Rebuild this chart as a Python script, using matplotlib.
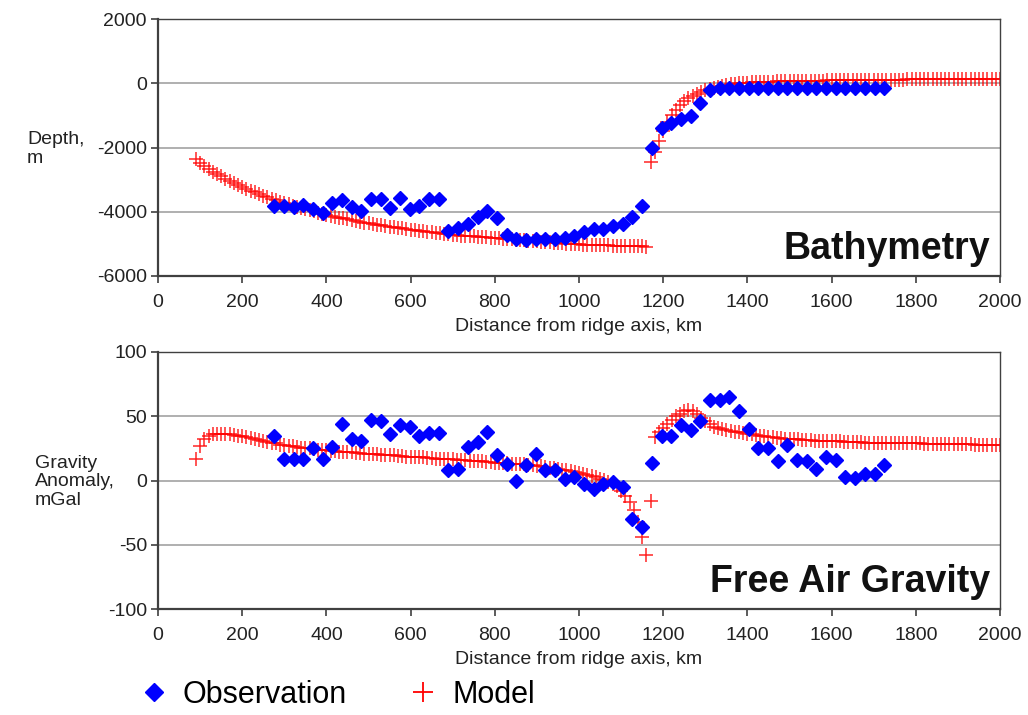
import matplotlib
matplotlib.use('Agg')
import matplotlib.pyplot as plt
from matplotlib.lines import Line2D

plt.rcParams['font.family'] = ['Liberation Sans', 'DejaVu Sans']
plt.rcParams['axes.unicode_minus'] = False

# observation stations along the profile (km from ridge axis)
OBS_KM = [276, 299, 322, 345, 368, 391, 414, 437, 460, 483,
          506, 529, 552, 575, 598, 621, 644, 667, 690, 713,
          736, 759, 782, 805, 828, 851, 874, 897, 920, 943,
          966, 989, 1012, 1035, 1058, 1081, 1104, 1127, 1150, 1173,
          1196, 1219, 1242, 1265, 1288, 1311, 1334, 1357, 1380, 1403,
          1426, 1449, 1472, 1495, 1518, 1541, 1564, 1587, 1610, 1633,
          1656, 1679, 1702, 1725]

OBS_DEPTH = [-3820, -3820, -3840, -3790, -3920, -4030, -3720, -3640, -3840, -3980,
             -3610, -3610, -3870, -3560, -3920, -3820, -3610, -3610, -4600, -4520,
             -4390, -4150, -3980, -4190, -4730, -4860, -4880, -4860, -4860, -4860,
             -4830, -4760, -4630, -4550, -4530, -4440, -4390, -4150, -3820, -2000,
             -1400, -1250, -1120, -1020, -600, -210, -160, -150, -150, -150,
             -150, -150, -150, -150, -150, -150, -150, -150, -150, -150,
             -150, -150, -150, -150]

OBS_GRAV = [35, 17, 17, 17, 25, 17, 26, 44, 32, 31,
            47, 46, 36, 43, 42, 35, 37, 37, 8, 9,
            26, 30, 38, 20, 13, 0, 12, 21, 8, 8,
            1, 3, -3, -7, -3, -1, -5, -30, -36, 14,
            35, 35, 43, 39, 46, 63, 63, 65, 54, 40,
            25, 25, 15, 28, 16, 15, 9, 18, 16, 3,
            2, 5, 5, 12]

# model is computed on a 10 km grid, in two pieces either side of the offset
MODEL_KM_A = list(range(90, 1170, 10))
MODEL_KM_B = list(range(1170, 2010, 10))

MODEL_DEPTH_A = [-2350, -2480, -2580, -2670, -2750, -2830, -2900, -2970, -3040, -3100,
                 -3170, -3230, -3290, -3340, -3400, -3450, -3500, -3550, -3600, -3640,
                 -3690, -3730, -3770, -3810, -3850, -3890, -3920, -3960, -3990, -4030,
                 -4060, -4100, -4130, -4160, -4190, -4210, -4240, -4270, -4290, -4320,
                 -4340, -4360, -4380, -4400, -4420, -4440, -4460, -4480, -4500, -4520,
                 -4540, -4560, -4570, -4590, -4610, -4620, -4640, -4650, -4670, -4680,
                 -4700, -4710, -4720, -4740, -4750, -4760, -4770, -4780, -4790, -4800,
                 -4810, -4820, -4830, -4840, -4850, -4860, -4870, -4880, -4890, -4900,
                 -4910, -4920, -4930, -4940, -4950, -4960, -4970, -4980, -4990, -5000,
                 -5010, -5010, -5020, -5030, -5030, -5040, -5040, -5050, -5050, -5060,
                 -5060, -5070, -5070, -5070, -5080, -5080, -5080, -5090]

MODEL_DEPTH_B = [-2450, -2150, -1800, -1500, -1220, -980, -820, -670, -550, -460,
                 -390, -330, -270, -210, -170, -140, -110, -80, -55, -30,
                 -15, 0, 10, 20, 28, 35, 41, 46, 50, 54,
                 58, 61, 64, 67, 70, 72, 75, 77, 79, 81,
                 83, 85, 87, 89, 91, 93, 95, 97, 98, 100,
                 102, 103, 105, 106, 108, 109, 111, 112, 113, 115,
                 116, 117, 118, 120, 121, 122, 123, 124, 125, 126,
                 127, 128, 129, 130, 131, 132, 133, 134, 135, 136,
                 137, 138, 139, 140]

MODEL_GRAV_A = [17, 27, 32, 35, 36, 36.5, 36.5, 36.5, 36, 35.5,
                35, 34.5, 34, 33, 32.5, 31.5, 31, 30, 29.5, 29,
                28, 27.5, 27, 26.5, 26, 25.5, 25, 25, 24.5, 24,
                24, 23.5, 23, 23, 22.5, 22.5, 22, 22, 21.5, 21.5,
                21, 21, 20.5, 20.5, 20, 20, 19.5, 19.5, 19, 19,
                18.5, 18.5, 18, 18, 18, 17.5, 17.5, 17, 17, 17,
                16.5, 16.5, 16, 16, 16, 15.5, 15.5, 15, 15, 14.5,
                14.5, 14, 14, 13.5, 13.5, 13, 13, 12.5, 12.5, 12,
                12, 11.5, 11, 10.5, 10, 9.5, 9, 8.5, 8, 7.5,
                7, 6, 5, 4.5, 3.5, 2.5, 1.5, 0.5, -1, -2.5,
                -4, -8, -12, -17, -23, -32, -44, -58]

MODEL_GRAV_B = [-16, 34, 38, 41, 44, 47, 50, 52, 54, 55,
                54, 52, 49, 46, 44, 42, 41, 40, 39, 38.5,
                38, 37.5, 37, 36.5, 36, 35.5, 35, 34.5, 34, 33.5,
                33, 33, 32.5, 32.5, 32, 32, 31.5, 31.5, 31.5, 31,
                31, 31, 30.5, 30.5, 30.5, 30.5, 30, 30, 30, 30,
                30, 29.5, 29.5, 29.5, 29.5, 29.5, 29.5, 29, 29, 29,
                29, 29, 29, 29, 29, 28.5, 28.5, 28.5, 28.5, 28.5,
                28.5, 28.5, 28.5, 28.5, 28.5, 28.5, 28.5, 28, 28, 28,
                28, 28, 28, 28]

OBS_COLOR = '#0000ff'
MODEL_COLOR = '#ff0000'
EDGE = '#404040'
FS = 14

W, H = 1028, 715
fig = plt.figure(figsize=(W / 100, H / 100), dpi=100)


def panel(top_px, bottom_px):
    return fig.add_axes([158 / W, 1 - bottom_px / H, 842 / W, (bottom_px - top_px) / H])


def style(ax, ylim, yticks):
    ax.set_xlim(0, 2000)
    ax.set_xticks(range(0, 2001, 200))
    ax.set_ylim(*ylim)
    ax.set_yticks(yticks)
    ax.grid(axis='y', color='#9a9a9a', lw=1.1)
    ax.set_axisbelow(True)
    for s in ax.spines.values():
        s.set_color(EDGE)
        s.set_linewidth(1.0)
    ax.spines['left'].set_linewidth(1.6)
    ax.spines['bottom'].set_linewidth(1.6)
    ax.tick_params(direction='out', length=5, width=1.2, color=EDGE,
                   labelsize=FS, labelcolor='#222222')
    ax.tick_params(axis='x', pad=8)
    ax.tick_params(axis='y', pad=3)
    ax.set_xlabel('Distance from ridge axis, km', fontsize=FS, color='#222222', labelpad=5)


def draw(ax, model_a, model_b, obs):
    for xs, ys in ((MODEL_KM_A, model_a), (MODEL_KM_B, model_b)):
        ax.plot(xs, ys, ls='none', marker='+', ms=10, mew=1.1, color=MODEL_COLOR, alpha=0.85, zorder=2)
    ax.plot(OBS_KM, obs, ls='none', marker='D', ms=7, color=OBS_COLOR, mec=OBS_COLOR, zorder=3)


ax1 = panel(19, 276)
draw(ax1, MODEL_DEPTH_A, MODEL_DEPTH_B, OBS_DEPTH)
style(ax1, (-6000, 2000), range(-6000, 2001, 2000))
ax1.text(0.988, 0.105, 'Bathymetry', transform=ax1.transAxes, ha='right', va='center',
         fontsize=27, fontweight='bold', color='#111111')

ax2 = panel(352, 609)
draw(ax2, MODEL_GRAV_A, MODEL_GRAV_B, OBS_GRAV)
style(ax2, (-100, 100), range(-100, 101, 50))
ax2.text(0.988, 0.105, 'Free Air Gravity', transform=ax2.transAxes, ha='right', va='center',
         fontsize=27, fontweight='bold', color='#111111')

fig.text(27 / W, 1 - 149 / H, 'Depth,\nm', ha='left', va='center', fontsize=FS,
         color='#222222', linespacing=1.15)
fig.text(35 / W, 1 - 482 / H, 'Gravity\nAnomaly,\nmGal', ha='left', va='center', fontsize=FS,
         color='#222222', linespacing=1.15)

handles = [Line2D([], [], ls='none', marker='D', ms=9, color=OBS_COLOR),
           Line2D([], [], ls='none', marker='+', ms=14, mew=1.3, color=MODEL_COLOR)]
fig.legend(handles, ['Observation', 'Model'], loc='center left',
           bbox_to_anchor=(126 / W, 1 - 695 / H), ncol=2, frameon=False, fontsize=22,
           handlelength=1.0, handletextpad=0.45, columnspacing=2.0, borderaxespad=0)

fig.savefig('out.png', dpi=100)
